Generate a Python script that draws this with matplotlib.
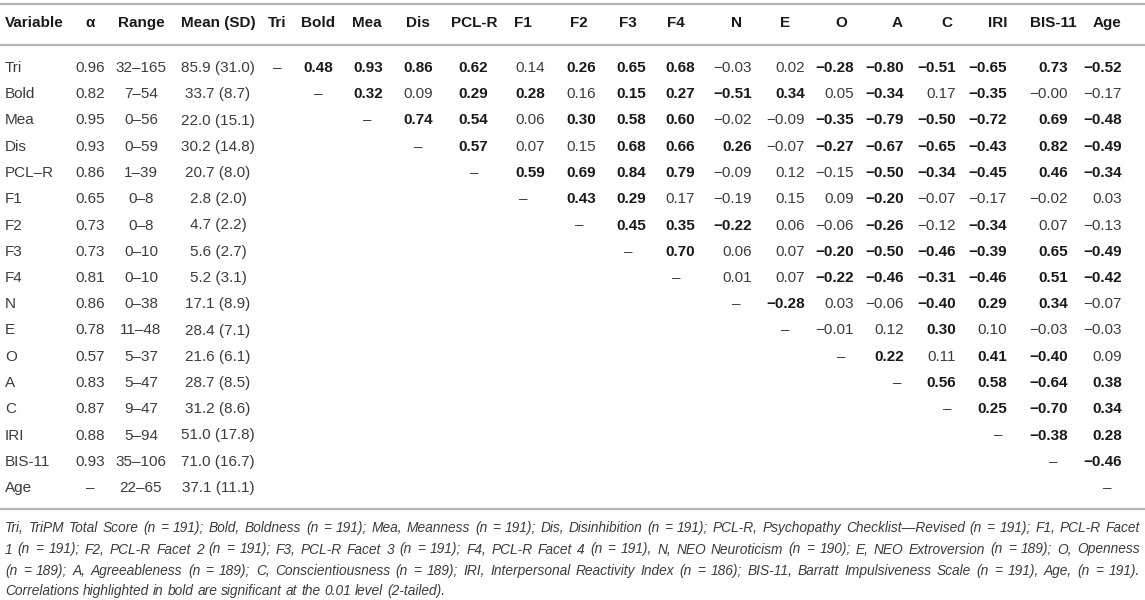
import matplotlib
matplotlib.use("Agg")
import matplotlib.pyplot as plt

# --- table content ---
variables = ["Tri", "Bold", "Mea", "Dis", "PCL\u2013R", "F1", "F2", "F3", "F4",
             "N", "E", "O", "A", "C", "IRI", "BIS-11", "Age"]
col_labels = ["Tri", "Bold", "Mea", "Dis", "PCL-R", "F1", "F2", "F3", "F4",
              "N", "E", "O", "A", "C", "IRI", "BIS-11", "Age"]
alphas = ["0.96", "0.82", "0.95", "0.93", "0.86", "0.65", "0.73", "0.73", "0.81",
          "0.86", "0.78", "0.57", "0.83", "0.87", "0.88", "0.93", "\u2013"]
ranges = ["32\u2013165", "7\u201354", "0\u201356", "0\u201359", "1\u201339", "0\u20138",
          "0\u20138", "0\u201310", "0\u201310", "0\u201338", "11\u201348", "5\u201337",
          "5\u201347", "9\u201347", "5\u201394", "35\u2013106", "22\u201365"]
means = ["85.9 (31.0)", "33.7 (8.7)", "22.0 (15.1)", "30.2 (14.8)", "20.7 (8.0)",
         "2.8 (2.0)", "4.7 (2.2)", "5.6 (2.7)", "5.2 (3.1)", "17.1 (8.9)",
         "28.4 (7.1)", "21.6 (6.1)", "28.7 (8.5)", "31.2 (8.6)", "51.0 (17.8)",
         "71.0 (16.7)", "37.1 (11.1)"]

# upper triangle correlations, row by row (columns after the diagonal); * = significant (bold)
corr = [
    "*0.48 *0.93 *0.86 *0.62 0.14 *0.26 *0.65 *0.68 -0.03 0.02 *-0.28 *-0.80 *-0.51 *-0.65 *0.73 *-0.52",
    "*0.32 0.09 *0.29 *0.28 0.16 *0.15 *0.27 *-0.51 *0.34 0.05 *-0.34 0.17 *-0.35 -0.00 -0.17",
    "*0.74 *0.54 0.06 *0.30 *0.58 *0.60 -0.02 -0.09 *-0.35 *-0.79 *-0.50 *-0.72 *0.69 *-0.48",
    "*0.57 0.07 0.15 *0.68 *0.66 *0.26 -0.07 *-0.27 *-0.67 *-0.65 *-0.43 *0.82 *-0.49",
    "*0.59 *0.69 *0.84 *0.79 -0.09 0.12 -0.15 *-0.50 *-0.34 *-0.45 *0.46 *-0.34",
    "*0.43 *0.29 0.17 -0.19 0.15 0.09 *-0.20 -0.07 -0.17 -0.02 0.03",
    "*0.45 *0.35 *-0.22 0.06 -0.06 *-0.26 -0.12 *-0.34 0.07 -0.13",
    "*0.70 0.06 0.07 *-0.20 *-0.50 *-0.46 *-0.39 *0.65 *-0.49",
    "0.01 0.07 *-0.22 *-0.46 *-0.31 *-0.46 *0.51 *-0.42",
    "*-0.28 0.03 -0.06 *-0.40 *0.29 *0.34 -0.07",
    "-0.01 0.12 *0.30 0.10 -0.03 -0.03",
    "*0.22 0.11 *0.41 *-0.40 0.09",
    "*0.56 *0.58 *-0.64 *0.38",
    "*0.25 *-0.70 *0.34",
    "*-0.38 *0.28",
    "*-0.46",
    "",
]

notes = [
    "Tri, TriPM Total Score (n = 191); Bold, Boldness (n = 191); Mea, Meanness (n = 191); Dis, Disinhibition (n = 191); PCL-R, Psychopathy Checklist\u2014Revised (n = 191); F1, PCL-R Facet",
    "1 (n = 191); F2, PCL-R Facet 2 (n = 191); F3, PCL-R Facet 3 (n = 191); F4, PCL-R Facet 4 (n = 191), N, NEO Neuroticism (n = 190); E, NEO Extroversion (n = 189); O, Openness",
    "(n = 189); A, Agreeableness (n = 189); C, Conscientiousness (n = 189); IRI, Interpersonal Reactivity Index (n = 186); BIS-11, Barratt Impulsiveness Scale (n = 191), Age, (n = 191).",
    "Correlations highlighted in bold are significant at the 0.01 level (2-tailed).",
]

# --- layout (pixels) ---
W, H = 1145, 600
hdr_x = [277, 318, 367, 418, 474, 523, 579, 628, 676, 736, 785, 841, 897, 947, 998, 1053, 1107]
val_right = [None, 333, 383, 433, 488, 545, 596, 646, 695, 752, 805, 854, 904, 956, 1007, 1068, 1122]
x_alpha, x_range, x_mean = 90, 141, 218
y_head, y_first, row_h = 23, 68, 26.25

dark = "#1a1a1a"
light = "#3c3c3c"
rule = "#b4b4b4"
fs = 11

plt.rcParams["font.family"] = ["Liberation Sans", "DejaVu Sans"]

fig = plt.figure(figsize=(W / 100, H / 100), dpi=100)
ax = fig.add_axes([0, 0, 1, 1])
ax.set_xlim(0, W)
ax.set_ylim(H, 0)
ax.axis("off")

for y in (4, 45, 509):
    ax.plot([0, W], [y, y], color=rule, lw=1.6, solid_capstyle="butt")

# header
ax.text(5, y_head, "Variable", ha="left", va="center", fontsize=fs, fontweight="bold", color=dark)
ax.text(x_alpha, y_head, "\u03b1", ha="center", va="center", fontsize=fs, fontweight="bold", color=dark)
ax.text(x_range, y_head, "Range", ha="center", va="center", fontsize=fs, fontweight="bold", color=dark)
ax.text(x_mean, y_head, "Mean (SD)", ha="center", va="center", fontsize=fs, fontweight="bold", color=dark)
for lab, x in zip(col_labels, hdr_x):
    ax.text(x, y_head, lab, ha="center", va="center", fontsize=fs, fontweight="bold", color=dark)

# body
for i, name in enumerate(variables):
    y = y_first + i * row_h
    ax.text(5, y, name, ha="left", va="center", fontsize=fs, color=light)
    ax.text(x_alpha, y, alphas[i], ha="center", va="center", fontsize=fs, color=light)
    ax.text(x_range, y, ranges[i], ha="center", va="center", fontsize=fs, color=light)
    ax.text(x_mean, y, means[i], ha="center", va="center", fontsize=fs, color=light)
    ax.text(hdr_x[i], y, "\u2013", ha="center", va="center", fontsize=fs, color=light)
    vals = corr[i].split()
    for k, v in enumerate(vals):
        j = i + 1 + k
        bold = v.startswith("*")
        s = v.lstrip("*").replace("-", "\u2212")
        ax.text(val_right[j], y, s, ha="right", va="center", fontsize=fs,
                fontweight="bold" if bold else "normal", color=dark if bold else light)

# footnote, justified like the source
fig.canvas.draw()
renderer = fig.canvas.get_renderer()
probe = ax.text(0, 0, notes[0], fontsize=10, style="italic")
nat = probe.get_window_extent(renderer).width
probe.remove()
note_fs = 10 * 1118 / nat

left, right = 5, 1140
note_y = [528, 549.5, 571, 591]
for li, line in enumerate(notes):
    words = line.split(" ")
    objs = [ax.text(0, note_y[li], w, ha="left", va="center", fontsize=note_fs,
                    style="italic", color=light) for w in words]
    widths = [t.get_window_extent(renderer).width for t in objs]
    if li < len(notes) - 1:
        gap = (right - left - sum(widths)) / (len(words) - 1)
    else:
        sp = ax.text(0, 0, "a a", fontsize=note_fs, style="italic")
        sp2 = ax.text(0, 0, "aa", fontsize=note_fs, style="italic")
        gap = sp.get_window_extent(renderer).width - sp2.get_window_extent(renderer).width
        sp.remove()
        sp2.remove()
    x = left
    for t, w in zip(objs, widths):
        t.set_x(x)
        x += w + gap

fig.savefig("out.png", dpi=100)
